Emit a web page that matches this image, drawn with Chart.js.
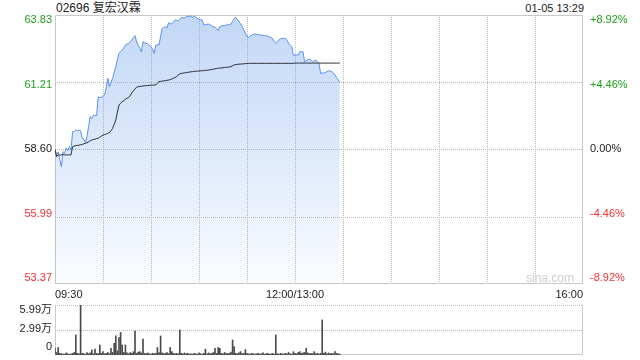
<!DOCTYPE html>
<html><head><meta charset="utf-8">
<script src="https://cdn.jsdelivr.net/npm/chart.js@4.4.1/dist/chart.umd.min.js"></script>
<style>
html,body{margin:0;padding:0;background:#fff;width:640px;height:360px;overflow:hidden;font-family:"Liberation Sans",Arial,"Noto Sans CJK SC",sans-serif;}
.w{position:absolute;left:0;width:640px;}
.t{position:absolute;font-size:12px;color:#222;line-height:14px;white-space:nowrap;}
</style></head><body>
<div class="t" style="left:56px;top:1px;">02696 复宏汉霖</div>
<div class="t" style="right:56px;top:1px;font-size:11px;">01-05 13:29</div>
<div class="w" style="top:0;height:300px;"><canvas id="c1"></canvas></div>
<div class="w" style="top:290px;height:80px;"><canvas id="c2"></canvas></div>
<div class="t" style="right:66px;top:271px;color:#cdcdcd;font-size:12px;">sina.com</div>
<script>
// ---- data ----
const timeTickPos = [0, 150, 330];
const timeTickLabels = ['09:30', '12:00/13:00', '16:00'];
const gridMinutes = [30, 60, 90, 120, 150, 180, 210, 240, 270, 300];
const priceTicks = [53.37, 55.985, 58.60, 61.215, 63.83];
const priceTickLabels = ['53.37', '55.99', '58.60', '61.21', '63.83'];
const pctTickLabels = ['-8.92%', '-4.46%', '0.00%', '+4.46%', '+8.92%'];
const volTicks = [0, 29950, 59900];
const volTickLabels = ['0', '2.99万', '5.99万'];

const prices = [
58.60,58.40,58.50,58.20,57.93,58.52,58.45,58.66,58.55,58.71,
58.58,59.29,59.30,59.36,59.34,59.36,59.33,59.05,59.00,58.87,
59.10,59.50,59.88,59.79,59.94,59.92,59.91,60.65,60.62,60.63,
60.68,60.72,61.00,61.37,61.04,61.20,61.37,61.60,61.82,62.10,
62.34,62.40,62.47,62.55,62.66,62.70,62.72,62.80,62.86,62.95,
63.03,62.79,62.65,62.54,62.40,62.79,62.75,62.73,62.70,62.65,
62.60,62.50,62.34,62.66,62.68,62.66,63.00,63.31,63.35,63.38,
63.32,63.53,63.50,63.48,63.55,63.64,63.62,63.60,63.65,63.74,
63.71,63.72,63.76,63.78,63.77,63.80,63.74,63.79,63.75,63.70,
63.66,63.65,63.64,63.44,63.45,63.47,63.48,63.45,63.40,63.38,
63.35,63.30,63.22,63.38,63.40,63.42,63.41,63.44,63.45,63.46,
63.48,63.58,63.70,63.74,63.66,63.57,63.48,63.38,63.25,63.12,
63.00,62.96,63.02,63.05,63.07,63.09,63.08,63.07,63.06,63.05,
63.04,63.03,63.02,63.01,62.98,62.95,62.92,62.80,62.73,62.80,
62.86,62.90,62.92,62.92,62.92,62.85,62.73,62.66,62.60,62.27,
62.27,62.28,62.27,62.40,62.41,62.40,62.01,62.05,62.10,62.11,
62.08,62.01,62.05,62.08,62.00,61.95,61.56,61.58,61.57,61.59,
61.63,61.66,61.65,61.63,61.58,61.50,61.40,61.30,61.21
];
const avgPrices = [
58.60,58.32,58.40,58.38,58.39,58.40,58.39,58.39,58.39,58.39,
58.39,58.71,58.73,58.75,58.76,58.77,58.78,58.80,58.82,58.84,
58.86,58.90,58.94,58.97,58.99,59.00,59.02,59.04,59.08,59.12,
59.16,59.18,59.20,59.23,59.25,59.33,59.42,59.58,59.75,60.05,
60.33,60.40,60.46,60.50,60.55,60.59,60.62,60.70,60.80,60.88,
60.96,61.02,61.04,61.05,61.06,61.07,61.08,61.08,61.09,61.09,
61.10,61.10,61.11,61.11,61.18,61.24,61.25,61.26,61.27,61.28,
61.29,61.30,61.32,61.34,61.37,61.40,61.43,61.50,61.54,61.56,
61.57,61.58,61.59,61.60,61.61,61.62,61.63,61.64,61.64,61.65,
61.65,61.66,61.66,61.67,61.68,61.68,61.69,61.70,61.71,61.72,
61.74,61.75,61.76,61.77,61.77,61.78,61.79,61.80,61.80,61.81,
61.82,61.86,61.89,61.90,61.91,61.92,61.92,61.93,61.93,61.94,
61.94,61.95,61.95,61.95,61.95,61.95,61.95,61.95,61.95,61.95,
61.95,61.95,61.95,61.95,61.95,61.95,61.95,61.95,61.95,61.95,
61.95,61.95,61.95,61.95,61.95,61.95,61.95,61.95,61.95,61.95,
61.96,61.96,61.96,61.96,61.96,61.96,61.96,61.96,61.96,61.96,
61.96,61.96,61.96,61.96,61.96,61.96,61.96,61.96,61.96,61.96,
61.96,61.96,61.96,61.96,61.96,61.96,61.96,61.96,61.96
];
const volumes = [
8000,3000,9000,2000,1500,1200,1000,2500,1500,1000,
1200,2000,3000,24000,2000,1500,59900,2000,1500,1000,
3000,1500,2500,6000,1500,7000,2000,1500,12000,2000,
4000,1500,2000,3000,1500,8000,3000,14000,23000,5000,
21000,27000,12000,3000,12000,2500,1500,3000,2000,4000,
28700,2000,3500,4000,2500,19000,2000,1500,2500,1500,
1000,2000,1500,2000,9000,3000,22800,2500,1500,2000,
3000,1500,9000,4000,2000,1500,2000,1500,30000,2000,
1500,2500,1500,2000,1000,1500,1000,2000,1500,1000,
2500,1500,1000,2000,7000,1500,2500,1500,2000,3000,
8000,2000,9000,8000,2000,1500,3000,2000,1500,2000,
3500,18000,10000,2000,1500,2500,4000,1500,2000,6500,
2000,1500,1000,2000,1500,1000,1500,2000,1000,1500,
2500,1000,1500,2000,1000,1500,2000,1000,24000,1500,
1000,2000,1500,1000,2000,1500,3000,1500,1000,4000,
2000,1500,3000,4000,2000,2500,3000,8000,2500,1500,
2000,1500,4000,1500,2000,1000,2000,42000,2000,3500,
1500,2500,1500,2000,1500,4000,2000,1500,1000
];

// ---- styling helpers ----
const FONT = {family: '"Liberation Sans", Arial, "Noto Sans CJK SC", sans-serif', size: 11};
const GRID = '#b8b8b8';
const BOX = '#c8c8c8';
const UP = '#1f9e1f', DOWN = '#f03030', FLAT = '#222';
const priceColor = (i) => i < 2 ? DOWN : (i === 2 ? FLAT : UP);

function strokeSeg(c, x1, y1, x2, y2, color) {
  c.save();
  c.beginPath();
  c.strokeStyle = color; c.lineWidth = 1; c.setLineDash([]);
  c.moveTo(x1, y1); c.lineTo(x2, y2);
  c.stroke();
  c.restore();
}

// frame around the plot area
const boxPlugin = (sides) => ({
  id: 'box',
  beforeDatasetsDraw(chart) {
    const a = chart.chartArea, c = chart.ctx;
    const l = Math.round(a.left) + 0.5, r = Math.round(a.right) - 0.5;
    const t = Math.round(a.top) + 0.5, b = Math.round(a.bottom) - 0.5;
    if (sides.includes('l')) strokeSeg(c, l, t, l, b, BOX);
    if (sides.includes('r')) strokeSeg(c, r, t, r, b, BOX);
    if (sides.includes('t')) strokeSeg(c, l, t, r, t, BOX);
    if (sides.includes('b')) strokeSeg(c, l, b, r, b, BOX);
  }
});

// dotted grid (1px dots) placed through the chart's own scales
const gridPlugin = (xVals, yId, yVals) => ({
  id: 'dotgrid',
  beforeDatasetsDraw(chart) {
    const a = chart.chartArea, c = chart.ctx;
    const xs = chart.scales.x, ys = chart.scales[yId];
    const L = Math.round(a.left), R = Math.round(a.right), T = Math.round(a.top), B = Math.round(a.bottom);
    c.save(); c.fillStyle = GRID;
    xVals.forEach(v => { const p = Math.round(xs.getPixelForValue(v)); for (let y = T; y < B; y += 2) c.fillRect(p, y, 1, 1); });
    yVals.forEach(v => { const p = Math.round(ys.getPixelForValue(v)); for (let x = L; x < R; x += 2) c.fillRect(x, p, 1, 1); });
    c.restore();
  }
});

const pts = (arr) => arr.map((v, i) => ({x: i, y: v}));

// ---- price chart ----
new Chart(document.getElementById('c1'), {
  type: 'line',
  data: {
    datasets: [
      {data: pts(avgPrices), borderColor: '#2a2d38', borderWidth: 1, pointRadius: 0, tension: 0, fill: false, yAxisID: 'y'},
      {data: pts(prices), borderColor: '#5a90ee', borderWidth: 1, pointRadius: 0, tension: 0, yAxisID: 'y',
       fill: 'start',
       backgroundColor: (ctx) => {
         const a = ctx.chart.chartArea;
         if (!a) return 'rgba(120,165,235,0.3)';
         const g = ctx.chart.ctx.createLinearGradient(0, a.top, 0, a.bottom);
         g.addColorStop(0, 'rgba(110,160,235,0.42)');
         g.addColorStop(0.5, 'rgba(110,160,235,0.23)');
         g.addColorStop(1, 'rgba(110,160,235,0.03)');
         return g;
       }}
    ]
  },
  options: {
    responsive: true, maintainAspectRatio: false, animation: false,
    layout: {padding: {top: 15, left: 0, right: 0, bottom: 0}},
    plugins: {legend: {display: false}, tooltip: {enabled: false}},
    scales: {
      x: {
        type: 'linear', min: 0, max: 330, position: 'bottom',
        afterBuildTicks: (s) => { s.ticks = timeTickPos.map(v => ({value: v})); },
        ticks: {autoSkip: false, maxRotation: 0, align: 'inner', padding: 4, font: FONT, color: '#222',
          callback: (v) => { const k = timeTickPos.indexOf(v); return k >= 0 ? timeTickLabels[k] : ''; }},
        grid: {display: false, drawTicks: false},
        border: {display: false},
        afterFit: (s) => { s.height = 16; }
      },
      y: {
        type: 'linear', min: priceTicks[0], max: priceTicks[priceTicks.length - 1], position: 'left',
        display: false
      },
      yl: {
        type: 'linear', min: -0.088, max: 4.077, position: 'left',
        afterBuildTicks: (s) => { s.ticks = priceTickLabels.map((_, i) => ({value: i})); },
        ticks: {autoSkip: false, padding: 3, font: FONT, color: (c) => priceColor(c.index),
          callback: (v) => priceTickLabels[v]},
        grid: {display: false, drawTicks: false}, border: {display: false},
        afterFit: (s) => { s.width = 55; }
      },
      yr: {
        type: 'linear', min: -0.088, max: 4.077, position: 'right',
        afterBuildTicks: (s) => { s.ticks = pctTickLabels.map((_, i) => ({value: i})); },
        ticks: {autoSkip: false, padding: 7, font: FONT, color: (c) => priceColor(c.index),
          callback: (v) => pctTickLabels[v]},
        grid: {display: false, drawTicks: false}, border: {display: false},
        afterFit: (s) => { s.width = 57; }
      }
    }
  },
  plugins: [gridPlugin(gridMinutes, 'y', priceTicks.slice(1, -1)), boxPlugin('lrtb')]
});

// ---- volume chart ----
new Chart(document.getElementById('c2'), {
  type: 'bar',
  data: {datasets: [{data: pts(volumes), backgroundColor: '#4a4a4a', barThickness: 1, yAxisID: 'v'}]},
  options: {
    responsive: true, maintainAspectRatio: false, animation: false,
    layout: {padding: {top: 15, bottom: 15, left: 0, right: 57}},
    plugins: {legend: {display: false}, tooltip: {enabled: false}},
    scales: {
      x: {type: 'linear', min: 0, max: 330, display: false, offset: false},
      v: {type: 'linear', min: volTicks[0], max: volTicks[volTicks.length - 1], position: 'left', display: false},
      vl: {
        type: 'linear', min: -0.413, max: 2.268, position: 'left',
        afterBuildTicks: (s) => { s.ticks = volTickLabels.map((_, i) => ({value: i})); },
        ticks: {autoSkip: false, padding: 3, font: FONT, color: '#222', callback: (v) => volTickLabels[v]},
        grid: {display: false, drawTicks: false}, border: {display: false},
        afterFit: (s) => { s.width = 55; }
      }
    }
  },
  plugins: [gridPlugin([], 'v', volTicks.slice(1)), boxPlugin('lrb')]
});
</script>
</body></html>
